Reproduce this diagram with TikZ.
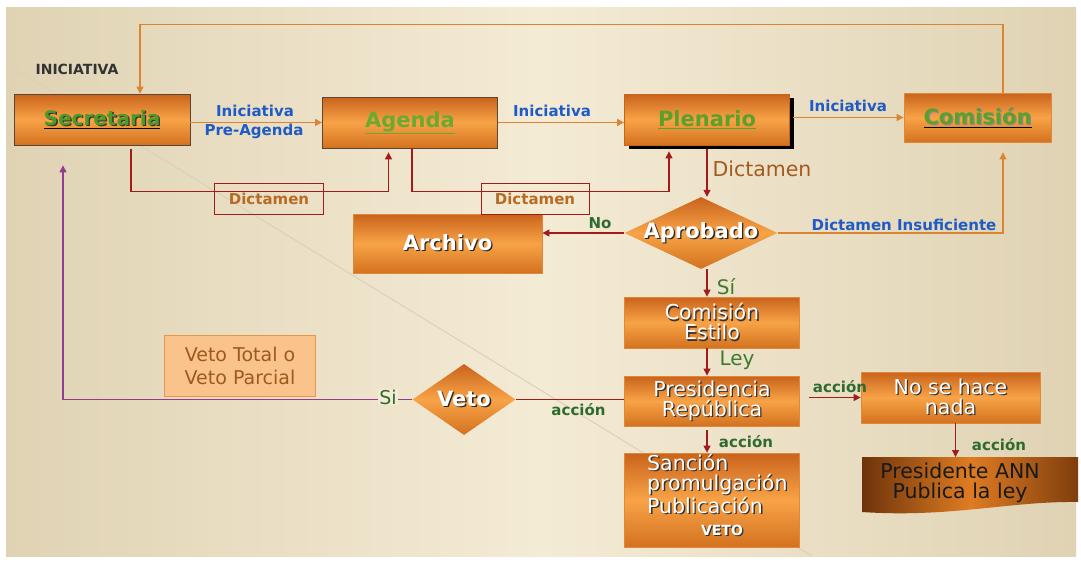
\documentclass[tikz,border=0pt]{standalone}
\usepackage{fontspec}
\setmainfont{DejaVu Sans}
\usetikzlibrary{arrows.meta,calc,shapes.geometric,shadows}
\definecolor{bgdark}{HTML}{E0D3B4}
\definecolor{bglight}{HTML}{F4EBD5}
\definecolor{bgline}{HTML}{DCD0B8}
\definecolor{otop}{HTML}{C9631B}
\definecolor{omid}{HTML}{F8A347}
\definecolor{obot}{HTML}{D3721F}
\definecolor{oedge}{HTML}{E08838}
\definecolor{gedge}{HTML}{5A4636}
\definecolor{sgreen}{HTML}{4E9A28}
\definecolor{agreen}{HTML}{6BAA2E}
\definecolor{pgreen}{HTML}{5BA02A}
\definecolor{tblue}{HTML}{1E5BC6}
\definecolor{lgreen}{HTML}{2F6A2F}
\definecolor{rgreen}{HTML}{3E7A2E}
\definecolor{dbrown}{HTML}{A35A1E}
\definecolor{dtxt}{HTML}{B86B24}
\definecolor{rline}{HTML}{A11B1B}
\definecolor{oline}{HTML}{DB8434}
\definecolor{pline}{HTML}{923B90}
\definecolor{vfill}{HTML}{FBC38C}
\definecolor{vedge}{HTML}{E89548}
\definecolor{vtxt}{HTML}{9C5A1E}
\definecolor{anndark}{HTML}{6E330A}
\definecolor{annmid}{HTML}{DF7C22}
\newcommand{\shtxt}[3]{\makebox[0pt][l]{\kern1.3pt\raisebox{-1.3pt}{\textcolor{#2}{#3}}}\textcolor{#1}{#3}}
\begin{document}
\begin{tikzpicture}[x=1pt,y=-1pt,
  obox/.style={draw=oedge,line width=0.8pt,top color=otop,bottom color=obot,middle color=omid,inner sep=0pt},
  odia/.style={diamond,draw=none,top color=otop,bottom color=obot,middle color=omid,inner sep=0pt},
  orl/.style={draw=oline,line width=1.1pt},
  rdl/.style={draw=rline,line width=1.2pt},
  pul/.style={draw=pline,line width=1.2pt},
  tip/.style={-{Triangle[length=7pt,width=7pt]}},
  lbl/.style={font=\fontsize{15}{17}\selectfont\bfseries,inner sep=0pt},
  ttl/.style={font=\fontsize{21}{23}\selectfont\bfseries},
  wtx/.style={font=\fontsize{20.5}{20}\selectfont,align=center},
  dbox/.style={draw=rline,line width=1pt,inner sep=0pt,text=dtxt,font=\fontsize{15}{17}\selectfont\bfseries},
]
\useasboundingbox (0,0) rectangle (1081,562);
% background
\fill[white] (0,0) rectangle (1081,562);
\fill[left color=bgdark,right color=bgdark,middle color=bglight] (6,7) rectangle (1076,556);
\draw[bgline,line width=1pt] (7,64) -- (812,556);

% main boxes
\node[obox,draw=gedge,minimum width=176pt,minimum height=51pt,ttl,font=\fontsize{20}{22}\selectfont\bfseries] (sec) at (102,119.5) {\underline{\shtxt{sgreen}{black!80}{Secretaria}}};
\node[obox,draw=gedge,minimum width=175pt,minimum height=51pt,ttl] (ag) at (410,122.5) {\textcolor{agreen}{\underline{Agenda}}};
\node[obox,draw=otop,minimum width=165pt,minimum height=51pt,ttl,drop shadow={shadow xshift=4pt,shadow yshift=-4pt,fill=black,opacity=1}] (ple) at (707,119.5) {\textcolor{pgreen}{\underline{Plenario}}};
\node[obox,minimum width=147pt,minimum height=49pt,ttl] (com) at (977.5,117.5) {\underline{\shtxt{pgreen}{black!45}{Comisión}}};
\node[obox,minimum width=189pt,minimum height=59pt,ttl] (arc) at (447.5,243.5) {\shtxt{white}{black!85}{Archivo}};
\node[odia,aspect=2.1,minimum width=153pt,minimum height=72pt,ttl] (apr) at (701,233) {\makebox[100pt]{\shtxt{white}{black!85}{Aprobado}}};
\node[obox,minimum width=175pt,minimum height=51pt,wtx] (est) at (712,322.5) {\shtxt{white}{black!80}{Comisión}\\\shtxt{white}{black!80}{Estilo}};
\node[obox,minimum width=175pt,minimum height=50pt,wtx] (pre) at (712,401) {\shtxt{white}{black!80}{Presidencia}\\\shtxt{white}{black!80}{República}};
\node[obox,minimum width=175pt,minimum height=94pt] (san) at (712,500) {};
\node[anchor=north west,inner sep=0pt,wtx,align=left] (santxt) at (647,454) {\shtxt{white}{black!80}{Sanción}\\\shtxt{white}{black!80}{promulgación}\\\shtxt{white}{black!80}{Publicación}};
\node[inner sep=0pt,font=\fontsize{14}{16}\selectfont\bfseries] (vetotxt) at (722,531) {\shtxt{white}{black!80}{VETO}};
\node[obox,minimum width=179pt,minimum height=51pt,wtx] (nad) at (950.5,397.5) {\shtxt{white}{black!80}{No se hace}\\\shtxt{white}{black!80}{nada}};
% Presidente ANN wavy box
\shade[left color=anndark,right color=anndark!85!annmid,middle color=annmid] (862,457) -- (1078,457) -- (1078,502) .. controls (1010,501) and (950,518) .. (862,512) -- cycle;
\node[inner sep=0pt,font=\fontsize{20.5}{20}\selectfont,align=center,text=black!90] (ann) at (960,483) {Presidente ANN\\Publica la ley};
\coordinate (anntop) at (955.5,457);
% veto diamond and note
\node[odia,aspect=1.45,minimum width=103pt,minimum height=71pt,ttl] (vet) at (464,399.5) {\makebox[45pt]{\shtxt{white}{black!85}{Veto}}};
\node[draw=vedge,fill=vfill,line width=1pt,minimum width=151pt,minimum height=61pt,inner sep=0pt,align=center,text=vtxt,font=\fontsize{19}{23}\selectfont] (vtp) at (240,365.5) {Veto Total o\\Veto Parcial};

\node[inner sep=0pt,text=black!80,font=\fontsize{14}{16}\selectfont\bfseries] (ini) at (77,69) {INICIATIVA};

% top loop
\draw[orl,tip] ($(com.north)+(25.5,0)$) -- ($(com.north)+(25.5,-68)$) -| ($(sec.north)+(38,0)$);
% iniciativa arrows
\draw[orl,tip] (ag.west -| sec.east) -- (ag.west);
\node[lbl,text=tblue] (l1) at (255,111) {Iniciativa};
\node[lbl,text=tblue] (l2) at (254,131) {Pre-Agenda};
\draw[orl,tip] (ag.east) -- (ag.east -| ple.west);
\node[lbl,text=tblue] (l3) at (552,111) {Iniciativa};
\draw[orl,tip] ($(com.west -| ple.east)+(3,0)$) -- (com.west);
\node[lbl,text=tblue] (l4) at (848,106) {Iniciativa};

% dictamen routes
\draw[rdl,tip] ($(sec.south)+(29,4)$) |- ($(ag.south)+(-21.5,43)$) -- ($(ag.south)+(-21.5,4)$);
\node[dbox,minimum width=108.5pt,minimum height=31pt] (d1) at (269,198.5) {\raisebox{-3pt}{Dictamen}};
\draw[rdl,tip] ($(ag.south)+(2,0)$) |- ($(ple.south)+(-38,46)$) -- ($(ple.south)+(-38,6)$);
\node[dbox,minimum width=108pt,minimum height=31pt] (d2) at (535,198.5) {\raisebox{-3pt}{Dictamen}};

% plenario -> aprobado
\draw[rdl,tip] (ple.south) ++(0,4) -- (apr.north -| ple.south);
\node[inner sep=0pt,text=dbrown,font=\fontsize{20.5}{22}\selectfont] (l5) at (762,169) {Dictamen};
% aprobado -> archivo
\draw[rdl,tip] (apr.west) -- (apr.west -| arc.east);
\node[lbl,text=lgreen] (l6) at (600,223) {No};
% aprobado -> comision
\draw[orl,tip] (apr.east) -| ($(com.south)+(25.5,10)$);
\node[lbl,text=tblue] (l7) at (904,225) {Dictamen Insuficiente};
% aprobado -> estilo
\draw[rdl,tip] ($(apr.south)+(6,0)$) -- ($(est.north)+(-5,0)$);
\node[inner sep=0pt,text=rgreen,font=\fontsize{20}{22}\selectfont] (l8) at (726,287) {Sí};
% estilo -> presidencia
\draw[rdl,tip] ($(est.south)+(-5,0)$) -- ($(pre.north)+(-5,0)$);
\node[inner sep=0pt,text=rgreen,font=\fontsize{20}{22}\selectfont] (l9) at (737,360) {Ley};
% presidencia -> sancion
\draw[rdl,tip] ($(pre.south)+(-5,4)$) -- ($(san.north)+(-5,0)$);
\node[lbl,text=lgreen] (l10) at (746,442) {acción};
% presidencia -> nada
\draw[rdl,tip] ($(nad.west -| pre.east)+(9,0)$) -- (nad.west);
\node[lbl,text=lgreen] (l11) at (840,387) {acción};
% nada -> ann
\draw[rdl,tip] ($(nad.south)+(5,0)$) -- (anntop);
\node[lbl,text=lgreen] (l12) at (999,445) {acción};
% presidencia -> veto
\draw[rdl] (vet.east -| pre.west) -- (vet.east);
\node[lbl,text=lgreen] (l13) at (578.5,410) {acción};
% veto -> secretaria
\draw[pul,tip] (vet.west) -- (63,399.5) -- ($(sec.south)+(-39,20)$);
\node[inner sep=1pt,fill=bglight,text=lgreen,font=\fontsize{19}{21}\selectfont] (l14) at (388,397) {Si};
\end{tikzpicture}
\end{document}
